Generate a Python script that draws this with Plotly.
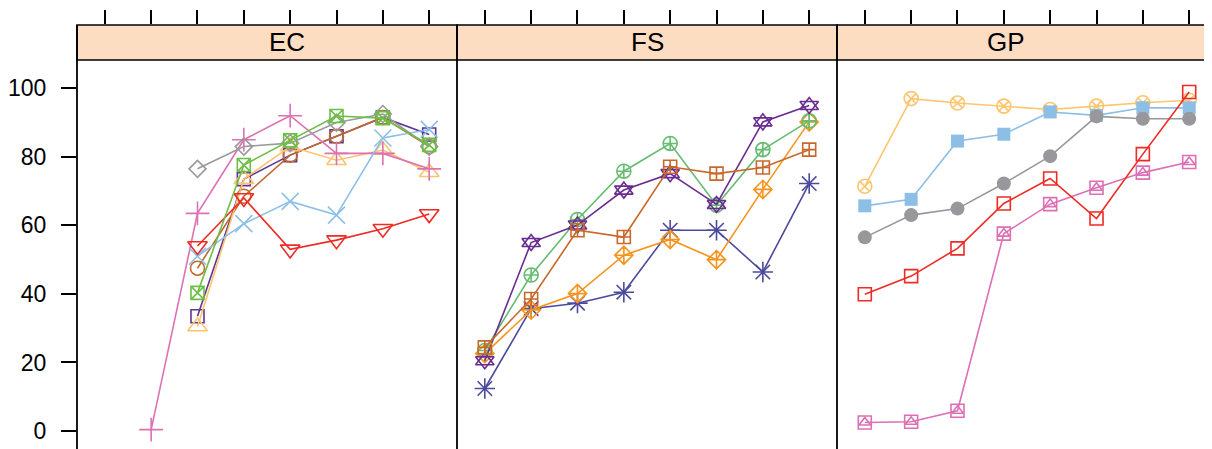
import plotly.graph_objects as go

x_positions = [1, 2, 3, 4, 5, 6, 7, 8]
panels = ["EC", "FS", "GP"]
y_ticks = [0, 20, 40, 60, 80, 100]

# ---- EC panel series ----
ec_square_purple = [None, None, 33.5, 73.5, 80.5, 86, 91.5, 86.5]
ec_circle_brown = [None, None, 47.5, 68.5, 80.5, 86, 91.5, 83]
ec_triup_yellow = [None, None, 30.5, 73.5, 83, 79, 82, 75.5]
ec_plus_pink = [None, 0.4, 63.5, 85, 92, 81, 81, 76.5]
ec_x_lightblue = [None, None, 51, 60.5, 67, 63, 85.5, 88]
ec_diamond_gray = [None, None, 76.5, 83, 84, 90, 92.5, 83]
ec_tridown_red = [None, None, 54, 68, 53, 55.7, 59, 63.3]
ec_sqx_green = [None, None, 40.3, 77.6, 84.8, 91.9, 91.3, 83.5]

# ---- FS panel series ----
fs_asterisk_navy = [12.4, 35.7, 37.3, 40.5, 58.6, 58.6, 46.4, 72.2]
fs_diamplus_orange = [22.6, 35.3, 40.1, 51.3, 55.9, 50.0, 70.5, 90.2]
fs_circplus_green = [23.5, 45.5, 61.7, 75.8, 83.9, 65.9, 82.1, 90.5]
fs_star_purple = [20.5, 55.0, 60.1, 70.3, 75.1, 66.1, 90.2, 95.0]
fs_sqplus_brown = [24.4, 38.5, 58.6, 56.6, 77.1, 75.1, 76.9, 82.1]

# ---- GP panel series ----
gp_circx_yellow = [71.4, 97.0, 95.7, 94.8, 93.8, 94.8, 95.8, 96.5]
gp_sqtri_pink = [2.5, 2.7, 5.9, 57.6, 66.2, 71.0, 75.4, 78.5]
gp_square_lightblue = [65.7, 67.6, 84.6, 86.6, 93.1, 92.1, 94.3, 94.3]
gp_circle_gray = [56.5, 63.0, 64.9, 72.2, 80.2, 91.8, 91.1, 91.1]
gp_sqopen_red = [39.9, 45.2, 53.3, 66.4, 73.7, 62.0, 80.8, 98.9]

# (panel index, values, colour, [(symbol, size), ...])
series = [
    (0, ec_square_purple, "#5E3594", [("square-open", 13)]),
    (0, ec_circle_brown, "#C0692E", [("circle-open", 14)]),
    (0, ec_triup_yellow, "#FDC36E", [("triangle-up-open", 17)]),
    (0, ec_plus_pink, "#DD72B2", [("cross-thin-open", 17)]),
    (0, ec_x_lightblue, "#8DC0E8", [("x-thin-open", 17)]),
    (0, ec_diamond_gray, "#9A9A9C", [("diamond-open", 13)]),
    (0, ec_tridown_red, "#EE2B24", [("triangle-down-open", 17)]),
    (0, ec_sqx_green, "#6DBE45", [("square-x-open", 13)]),
    (1, fs_asterisk_navy, "#4C4A9C", [("asterisk-open", 17)]),
    (1, fs_diamplus_orange, "#F7941E", [("diamond-cross-open", 14)]),
    (1, fs_circplus_green, "#66BC70", [("circle-cross-open", 14)]),
    (1, fs_star_purple, "#6A2C91", [("triangle-up-open", 16), ("triangle-down-open", 16)]),
    (1, fs_sqplus_brown, "#C8692B", [("square-cross-open", 13)]),
    (2, gp_circx_yellow, "#FCC66F", [("circle-x-open", 14)]),
    (2, gp_sqtri_pink, "#DD6FB5", [("square-open", 13), ("triangle-up-open", 10)]),
    (2, gp_square_lightblue, "#8CBEE6", [("square", 13)]),
    (2, gp_circle_gray, "#98989C", [("circle", 14)]),
    (2, gp_sqopen_red, "#EE2B24", [("square-open", 13)]),
]

# The page body has an 8px margin, so the figure is offset by 8px.
OFF = 8
W, H = 1212, 449
ML, MT, MB = 77 - OFF, 25 - OFF, OFF
plot_w = W - ML
panel_px = 380
bounds = [0, panel_px / plot_w, 2 * panel_px / plot_w, 1.0]
px_per_unit = panel_px / 8.2
x_ranges = [[0.4, 8.6], [0.4, 8.6],
            [0.4, 0.4 + (plot_w - 2 * panel_px) / px_per_unit]]

fig = go.Figure()
axis_names = ["x", "x2", "x3"]
for p, vals, col, syms in series:
    xa = axis_names[p]
    first = True
    for sym, size in syms:
        is_filled = sym in ("square", "circle")
        fig.add_trace(go.Scatter(
            x=x_positions, y=vals,
            xaxis=xa, yaxis="y",
            mode="lines+markers" if first else "markers",
            line=dict(color=col, width=1.6),
            marker=dict(symbol=sym, size=size, color=col,
                        line=dict(color=col, width=0 if is_filled else 1.6)),
            connectgaps=False,
            showlegend=False, hoverinfo="skip",
        ))
        first = False

layout_axes = {}
for i, name in enumerate(["xaxis", "xaxis2", "xaxis3"]):
    layout_axes[name] = dict(
        domain=[bounds[i], bounds[i + 1]], range=x_ranges[i],
        side="top", anchor="y", ticks="outside", ticklen=14, tickwidth=1.6,
        tickcolor="black", tickvals=x_positions, showticklabels=False,
        showgrid=False, zeroline=False, showline=False, fixedrange=True,
        automargin=False,
    )

px_per_y = (431 - 88.3) / 100
y_top = (431 - 25) / px_per_y
y_bot = (431 - 449) / px_per_y
strip_y0 = (449 - 60) / (449 - 25)

FONT = "Liberation Sans, Arial, Helvetica, sans-serif"
fig.update_layout(
    width=W, height=H,
    margin=dict(l=ML, r=0, t=MT, b=MB, pad=0, autoexpand=False),
    plot_bgcolor="white", paper_bgcolor="white",
    font=dict(family=FONT, size=23, color="black"),
    yaxis=dict(domain=[0, 1], range=[y_bot, y_top], anchor="x",
               tickvals=y_ticks, ticks="outside", ticklen=15, tickwidth=1.6,
               tickcolor="black", showgrid=False, zeroline=False, showline=False,
               ticklabelstandoff=10, tickfont=dict(family=FONT, size=23),
               fixedrange=True, automargin=False),
    **layout_axes,
)

shapes = []
for i in range(3):
    shapes.append(dict(type="rect", xref="paper", yref="paper",
                       x0=bounds[i], x1=bounds[i + 1] + (0.01 if i == 2 else 0),
                       y0=strip_y0, y1=1,
                       fillcolor="#FDDDC2", line=dict(color="black", width=1.6),
                       layer="below"))
for b in bounds[:3]:
    shapes.append(dict(type="line", xref="paper", yref="paper",
                       x0=b, x1=b, y0=0, y1=1, line=dict(color="black", width=1.8)))
fig.update_layout(shapes=shapes)

for i, name in enumerate(panels):
    fig.add_annotation(xref="paper", yref="paper",
                       x=(bounds[i] + bounds[i] + panel_px / plot_w) / 2,
                       y=(strip_y0 + 1) / 2, text=name, showarrow=False,
                       font=dict(family=FONT, size=26, color="black"),
                       yanchor="middle")

fig.write_html("out.html")
